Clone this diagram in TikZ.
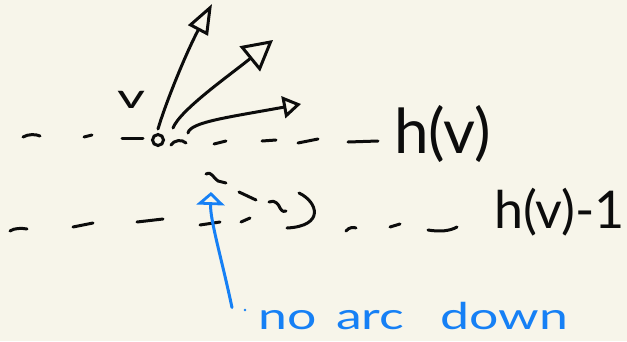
\documentclass[tikz,border=0pt]{standalone}
\usepackage{fontspec}
\usepackage{graphicx}
\setmainfont{Lato}
\usetikzlibrary{arrows.meta}
\definecolor{paper}{RGB}{247,245,234}
\definecolor{ink}{RGB}{12,12,12}
\definecolor{pen}{RGB}{22,128,245}
\begin{document}
\begin{tikzpicture}[x=1pt,y=-1pt,
  stroke/.style={line width=3pt, line cap=round, line join=round, draw=ink},
  bluestroke/.style={line width=3pt, line cap=round, line join=round, draw=pen},
  lbl/.style={text=ink, inner sep=0pt, anchor=base west},
  vertex/.style={circle, draw=ink, line width=3pt, minimum size=11pt, inner sep=0pt}]
\fill[paper] (0,0) rectangle (627,341);
\useasboundingbox (0,0) rectangle (627,341);

% vertex and label
\node[vertex] (v) at (158,140) {};
\node[lbl, font=\fontsize{34}{34}\selectfont] (vl) at (117,108) {\scalebox{1.6}[1]{v}};

% upper dashed line h(v)
\draw[stroke] (23,137) .. controls (28,134) and (36,134) .. (40,136);
\draw[stroke] (84,137) -- (92,135);
\draw[stroke] (122,138) -- (143,138);
\draw[stroke] (171,145) .. controls (174,140) and (182,139) .. (186,143);
\draw[stroke] (214,144) -- (226,141);
\draw[stroke] (262,141) -- (276,140);
\draw[stroke] (298,143) -- (318,139);
\draw[stroke] (348,142) -- (378,141);
\node[lbl, font=\fontsize{62}{62}\selectfont] (hv) at (394,153) {h(v)};

% arrows out of v
\coordinate (t1) at (212,4);
\coordinate (t2) at (273,40);
\coordinate (t3) at (301,104);
\draw[stroke, -{Triangle[open, length=30pt, width=22pt, line width=3pt]}]
  ([shift={(0,-11)}]v.center) .. controls (165,105) and (185,55) .. (t1);
\draw[stroke, -{Triangle[open, length=30pt, width=32pt, line width=3pt]}]
  ([shift={(15,-12)}]v.center) .. controls (180,110) and (230,75) .. (t2);
\draw[stroke, -{Triangle[open, length=18pt, width=22pt, line width=3pt]}]
  ([shift={(30,-7)}]v.center) .. controls (190,122) and (230,117) .. (t3);

% lower dashed line h(v)-1
\draw[stroke] (10,231) .. controls (14,228) and (22,228) .. (27,229);
\draw[stroke] (73,227) -- (93,223);
\draw[stroke] (137,222) -- (163,219);
\draw[stroke] (200,225) -- (220,222);
\draw[stroke] (241,222) -- (250,218);
\draw[stroke] (206,174) .. controls (212,171) and (213,178) .. (218,181) -- (226,183);
\draw[stroke] (239,192) -- (256,200);
\draw[stroke] (269,202) .. controls (275,199) and (279,205) .. (280,208) .. controls (282,212) and (285,212) .. (286,211);
\draw[stroke] (299,193) .. controls (318,202) and (325,226) .. (287,228);
\draw[stroke] (346,231) .. controls (349,227) and (354,227) .. (356,228);
\draw[stroke] (390,227) -- (400,224);
\draw[stroke] (428,230) .. controls (440,232) and (450,231) .. (457,227);
\node[lbl, font=\fontsize{52}{52}\selectfont] (hv1) at (494,228) {h(v)-1};

% blue annotation
\node[lbl, text=pen, font=\fontsize{37}{37}\selectfont] (note) at (258,329)
  {\scalebox{1.4}[1]{no\hspace{14pt}arc\hspace{26pt}down}};
\fill[pen] (245,310) circle (1.4pt);
\coordinate (bt) at (211,192);
\draw[bluestroke, -{Triangle[open, length=13pt, width=28pt, line width=2.8pt]}]
  ([shift={(-26,6)}]note.north west) .. controls (222,260) and (210,220) .. (bt);
\end{tikzpicture}
\end{document}
